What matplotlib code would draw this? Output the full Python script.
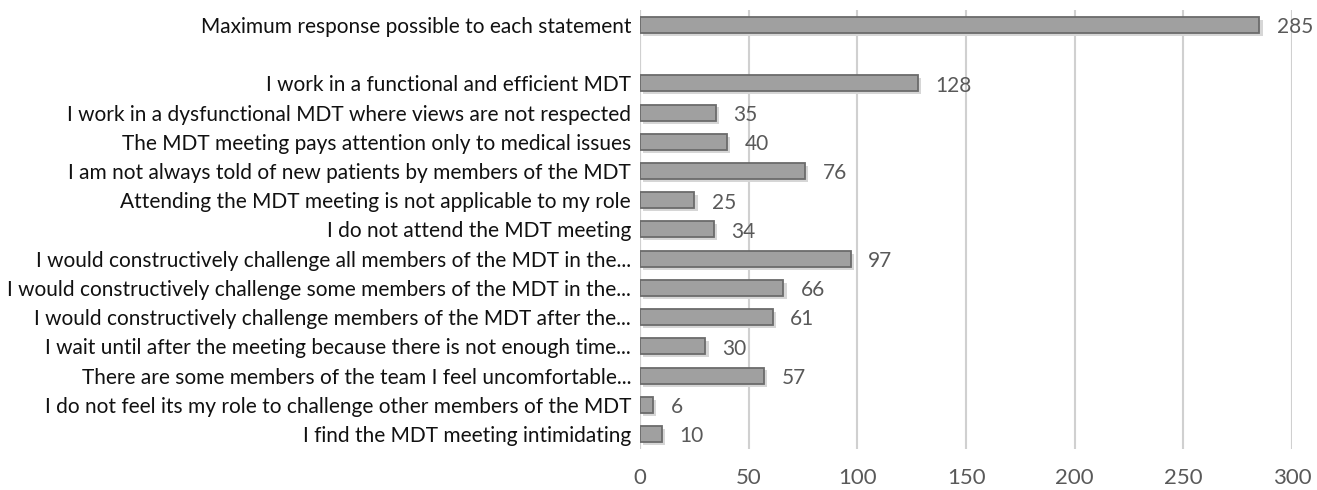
import matplotlib.pyplot as plt
import numpy as np

labels = [
    'Maximum response possible to each statement',
    '',
    'I work in a functional and efficient MDT',
    'I work in a dysfunctional MDT where views are not respected',
    'The MDT meeting pays attention only to medical issues',
    'I am not always told of new patients by members of the MDT',
    'Attending the MDT meeting is not applicable to my role',
    'I do not attend the MDT meeting',
    'I would constructively challenge all members of the MDT in the...',
    'I would constructively challenge some members of the MDT in the...',
    'I would constructively challenge members of the MDT after the...',
    'I wait until after the meeting because there is not enough time...',
    'There are some members of the team I feel uncomfortable...',
    'I do not feel its my role to challenge other members of the MDT',
    'I find the MDT meeting intimidating',
]
values = [285, None, 128, 35, 40, 76, 25, 34, 97, 66, 61, 30, 57, 6, 10]
ticks = [0, 50, 100, 150, 200, 250, 300]

plt.rcParams['font.family'] = ['Lato', 'DejaVu Sans']

fig = plt.figure(figsize=(13.17, 4.9), dpi=100)
ax = fig.add_axes([0.486, 0.0845, 0.495, 0.8945])

y = np.arange(len(labels))
for yi, v in zip(y, values):
    if v is None:
        continue
    # soft shadow under the bar
    ax.barh(yi + 0.1, v, height=0.55, left=1.5, color='#d6d6d6', edgecolor='none', zorder=2)
    ax.barh(yi, v, height=0.55, color='#a0a0a0', edgecolor='#6b6b6b', linewidth=1.3, zorder=3)
    ax.text(v + 8, yi + 0.08, str(v), va='center', ha='left', fontsize=15, color='#595959')

ax.set_yticks(y)
ax.set_yticklabels(labels, fontsize=15, color='#111111')
ax.set_ylim(len(labels) - 0.5, -0.5)
ax.set_xlim(0, 300)
ax.set_xticks(ticks)
ax.set_xticklabels([str(t) for t in ticks], fontsize=16, color='#595959')
ax.tick_params(axis='both', length=0)
ax.tick_params(axis='x', pad=14)
ax.tick_params(axis='y', pad=6.5)
ax.xaxis.grid(True, color='#d0d0d0', linewidth=1.5, zorder=0)
ax.set_axisbelow(True)
for s in ax.spines.values():
    s.set_visible(False)
ax.axvline(0, color='#d0d0d0', linewidth=1.5, zorder=1)

fig.savefig('out.png', dpi=100)
